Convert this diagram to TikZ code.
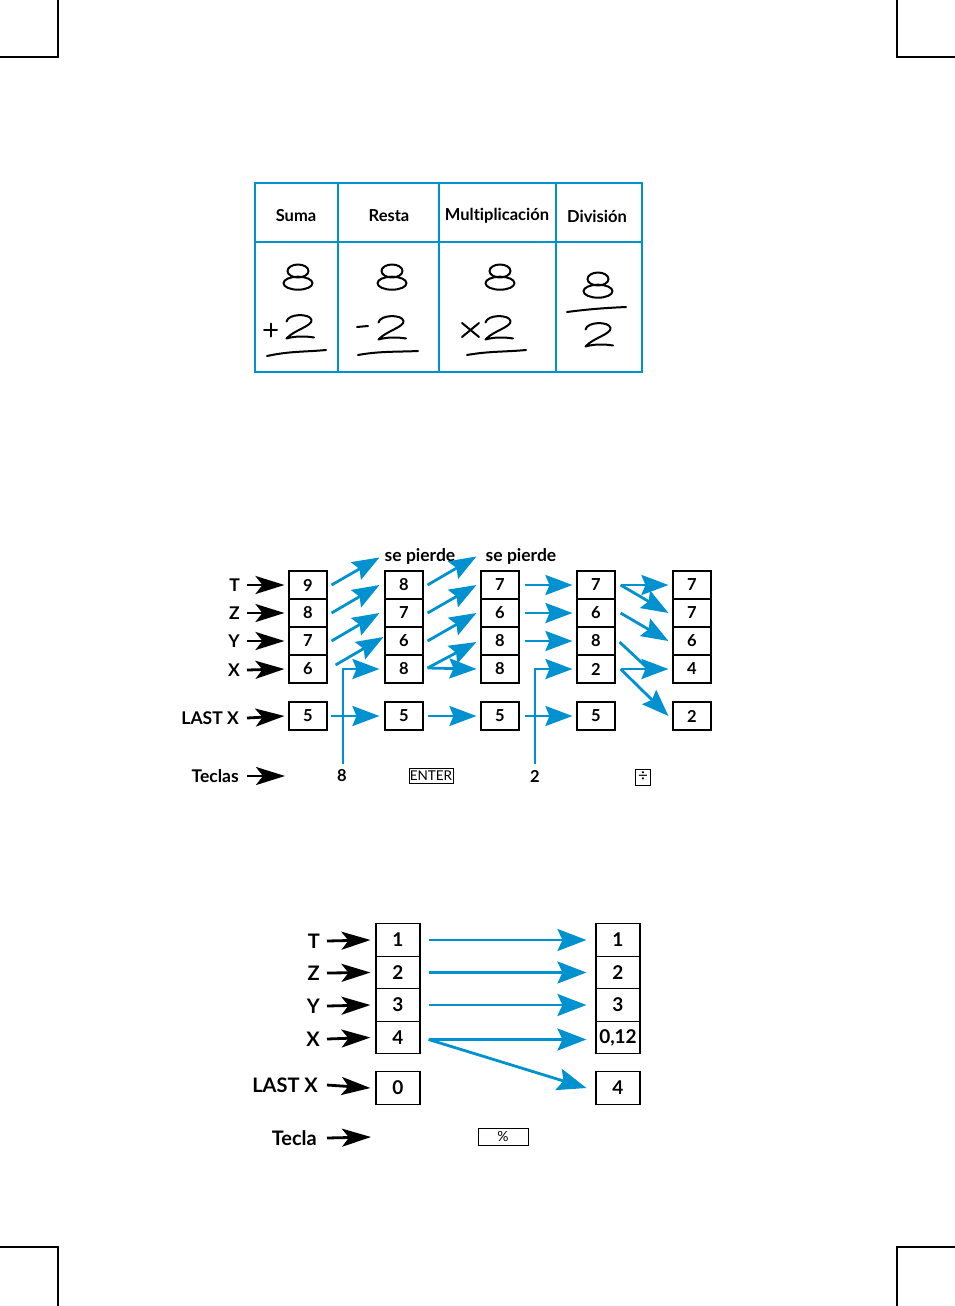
\documentclass[tikz,border=0pt]{standalone}
\usepackage{fontspec}
\setmainfont{Lato}[Ligatures=NoCommon]
\usetikzlibrary{arrows.meta}
\definecolor{hpblue}{RGB}{0,146,208}
\tikzset{
  bl/.style={draw=hpblue, line width=2.8pt, -{Stealth[length=27pt,width=20pt,inset=4pt]}},
  blb/.style={draw=hpblue, line width=2.8pt, -{Stealth[length=29pt,width=22pt,inset=5pt]}},
  blline/.style={draw=hpblue, line width=2.8pt},
  bk/.style={draw=black, line width=2.8pt, -{Stealth[length=29pt,width=18pt,inset=7pt]}},
  reg/.style={draw, line width=1.1pt, minimum width=38pt, minimum height=28pt, inner sep=0pt,
    font=\fontsize{16.5}{16.5}\selectfont\bfseries},
  regb/.style={draw, line width=1.1pt, minimum width=44pt, minimum height=32.8pt, inner sep=0pt,
    font=\fontsize{19}{19}\selectfont\bfseries},
  lab/.style={anchor=east, inner sep=0pt, font=\fontsize{17.5}{17.5}\selectfont\bfseries},
  labb/.style={anchor=east, inner sep=0pt, font=\fontsize{20}{20}\selectfont\bfseries},
  keyt/.style={inner sep=0pt, font=\fontsize{16.5}{16.5}\selectfont\bfseries},
  seplab/.style={inner sep=0pt, font=\fontsize{17.5}{17.5}\selectfont\bfseries},
  keybox/.style={draw, line width=0.8pt, inner sep=0pt, font=\fontsize{13.5}{13.5}\selectfont},
  hdr/.style={inner sep=0pt, font=\fontsize{16.5}{16.5}\selectfont\bfseries},
  hw/.style={line width=2pt, line cap=round, line join=round},
  crop/.style={line width=1.3pt},
  heightpic/.pic={
    \draw[hw] (0,-6) ellipse [x radius=10.5pt, y radius=6.5pt];
    \draw[hw] (0,6.2) ellipse [x radius=14.5pt, y radius=6.5pt];
  },
  htwopic/.pic={
    \draw[hw] (0.5,6.5) .. controls (2,-1.5) and (24,-2) .. (25.5,5)
      .. controls (26.5,11) and (8,15) .. (0.5,23.5)
      .. controls (9,21) and (19,21) .. (28,22.5);
  },
}
\begin{document}
\begin{tikzpicture}[x=1pt,y=-1pt]
\useasboundingbox (0,0) rectangle (955,1306);
% crop marks
\draw[crop] (58,0) -- (58,57) -- (0,57);
\draw[crop] (897,0) -- (897,57) -- (955,57);
\draw[crop] (0,1247) -- (58,1247) -- (58,1306);
\draw[crop] (955,1247) -- (897,1247) -- (897,1306);

% ---------- table ----------
\draw[hpblue, line width=1.5pt] (255,183) rectangle (642,372);
\draw[hpblue, line width=1.5pt] (255,242) -- (642,242);
\draw[hpblue, line width=1.5pt] (338,183) -- (338,372);
\draw[hpblue, line width=1.5pt] (439,183) -- (439,372);
\draw[hpblue, line width=1.5pt] (556,183) -- (556,372);
\node[hdr] (hsuma) at (296,216) {Suma};
\node[hdr] (hresta) at (389,216) {Resta};
\node[hdr] (hmult) at (497,216) {Multiplicación};
\node[hdr] (hdiv) at (597,216) {División};
% Suma
\pic at (298,277) {heightpic};
\draw[hw] (264,330) -- (277,330) (270.5,323.5) -- (270.5,336.5);
\pic at (286,315) {htwopic};
\draw[hw] (267,356) .. controls (290,351) and (305,352) .. (326,350);
% Resta
\pic at (392,277) {heightpic};
\draw[hw] (357,327) -- (368,326);
\pic at (378,316) {htwopic};
\draw[hw] (358,355) .. controls (380,351) and (398,352) .. (418,351);
% Multiplicacion
\pic at (500,277) {heightpic};
\draw[hw] (462,323) -- (479,337) (462,337) -- (479,323);
\pic at (485,316) {htwopic};
\draw[hw] (467,355) .. controls (490,351) and (505,352) .. (526,350);
% Division
\pic at (598,285) {heightpic};
\draw[hw] (567,312) .. controls (590,309) and (605,308) .. (626,307);
\pic at (585,323) {htwopic};

% ---------- middle diagram ----------
\node[lab] (lT) at (240,585) {T};
\node[lab] (lZ) at (240,613) {Z};
\node[lab] (lY) at (240,641) {Y};
\node[lab] (lX) at (240,670) {X};
\node[lab] (lL) at (239,718) {LAST X};
\node[lab] (lK) at (239,776) {Teclas};
\coordinate (kT) at (285,776);

\foreach \c/\x/\v/\w/\y/\z/\l in {a/308/9/8/7/6/5, b/404/8/7/6/8/5, c/500/7/6/8/8/5, d/596/7/6/8/2/5, e/692/7/7/6/4/2}{
  \node[reg] (\c1) at (\x,585) {\v};
  \node[reg] (\c2) at (\x,613) {\w};
  \node[reg] (\c3) at (\x,641) {\y};
  \node[reg] (\c4) at (\x,669) {\z};
  \node[reg] (\c L) at (\x,716) {\l};
}

\draw[bk] ([shift={(7,0)}]lT.east) -- ([shift={(-4,0)}]a1.west);
\draw[bk] ([shift={(7,0)}]lZ.east) -- ([shift={(-4,0)}]a2.west);
\draw[bk] ([shift={(7,0)}]lY.east) -- ([shift={(-4,0)}]a3.west);
\draw[bk] ([shift={(7,0)}]lX.east) -- ([shift={(-4,0)}]a4.west);
\draw[bk] ([shift={(8,0)}]lL.east) -- ([shift={(-4,0)}]aL.west);
\draw[bk] ([shift={(8,0)}]lK.east) -- (kT);

\node[seplab] (se1) at (420,556) {se pierde};
\node[seplab] (se2) at (521,556) {se pierde};

% a -> b
\draw[bl] ([shift={(4,0)}]a1.east) -- ([shift={(-5,-13)}]b1.north west);
\draw[bl] ([shift={(4,0)}]a2.east) -- ([shift={(-5,0)}]b1.west);
\draw[bl] ([shift={(4,0)}]a3.east) -- ([shift={(-5,0)}]b2.west);
\draw[bl] ([shift={(8,-4)}]a4.east) -- ([shift={(-1,-4)}]b3.west);
\draw[bl] ([shift={(3,0)}]aL.east) -- ([shift={(-5,0)}]bL.west);
\node[keyt] (k8) at (342,776) {8};
\draw[bl] ([shift={(1,-6)}]k8.north) |- ([shift={(-5,0)}]b4.west);
\node[keybox, minimum width=44pt, minimum height=15pt] (kE) at (431,776) {ENTER};

% b -> c
\draw[bl] ([shift={(4,0)}]b1.east) -- ([shift={(-4,-14)}]c1.north west);
\draw[bl] ([shift={(4,0)}]b2.east) -- ([shift={(-4,0)}]c1.west);
\draw[bl] ([shift={(4,0)}]b3.east) -- ([shift={(-4,0)}]c2.west);
\draw[bl] ([shift={(4,-1)}]b4.east) -- ([shift={(-4,1)}]c3.west);
\draw[bl] ([shift={(4,-1)}]b4.east) -- ([shift={(-4,0)}]c4.west);
\draw[bl] ([shift={(4,0)}]bL.east) -- ([shift={(-4,0)}]cL.west);

% c -> d
\draw[bl] ([shift={(5,0)}]c1.east) -- ([shift={(-4,0)}]d1.west);
\draw[bl] ([shift={(5,0)}]c2.east) -- ([shift={(-4,0)}]d2.west);
\draw[bl] ([shift={(5,0)}]c3.east) -- ([shift={(-4,0)}]d3.west);
\draw[bl] ([shift={(5,0)}]cL.east) -- ([shift={(-4,0)}]dL.west);
\node[keyt] (k2) at (535,776) {2};
\draw[bl] ([shift={(0,-6)}]k2.north) |- ([shift={(-4,0)}]d4.west);
\node[keybox, minimum width=15pt, minimum height=16pt, font=\fontsize{17}{17}\selectfont] (kD) at (643,777) {÷};

% d -> e
\coordinate (m) at ([shift={(-24,0)}]e4.west);
\draw[bl] ([shift={(5,0)}]d1.east) -- ([shift={(-4,0)}]e1.west);
\draw[bl] ([shift={(5,0)}]d1.east) -- ([shift={(-4,0)}]e2.west);
\draw[bl] ([shift={(5,0)}]d2.east) -- ([shift={(-4,0)}]e3.west);
\draw[blline] ([shift={(4,1)}]d3.east) -- (m);
\draw[bl] ([shift={(5,0)}]d4.east) -- ([shift={(-4,0)}]e4.west);
\draw[bl] ([shift={(5,0)}]d4.east) -- ([shift={(-4,0)}]eL.west);

% ---------- bottom diagram ----------
\node[labb] (mT) at (320,941) {T};
\node[labb] (mZ) at (320,973) {Z};
\node[labb] (mY) at (320,1006) {Y};
\node[labb] (mX) at (320,1039) {X};
\node[labb] (mL) at (318,1085) {LAST X};
\node[labb] (mK) at (317,1138) {Tecla};
\coordinate (kb) at (371,1137);

\foreach \c/\x/\v/\w/\y/\z/\l in {p/398/1/2/3/4/0, q/618/1/2/3/{0,12}/4}{
  \node[regb] (\c1) at (\x,940) {\v};
  \node[regb] (\c2) at (\x,972.5) {\w};
  \node[regb] (\c3) at (\x,1005) {\y};
  \node[regb] (\c4) at (\x,1037.5) {\z};
  \node[regb] (\c L) at (\x,1088) {\l};
}
\draw[bk] ([shift={(7,0)}]mT.east) -- ([shift={(-5,0)}]p1.west);
\draw[bk] ([shift={(7,0)}]mZ.east) -- ([shift={(-5,0)}]p2.west);
\draw[bk] ([shift={(7,0)}]mY.east) -- ([shift={(-5,0)}]p3.west);
\draw[bk] ([shift={(7,0)}]mX.east) -- ([shift={(-5,0)}]p4.west);
\draw[bk] ([shift={(9,0)}]mL.east) -- ([shift={(-5,0)}]pL.west);
\draw[bk] ([shift={(10,0)}]mK.east) -- (kb);

\draw[blb] ([shift={(8,0)}]p1.east) -- ([shift={(-9,0)}]q1.west);
\draw[blb] ([shift={(8,0)}]p2.east) -- ([shift={(-9,0)}]q2.west);
\draw[blb] ([shift={(8,0)}]p3.east) -- ([shift={(-9,0)}]q3.west);
\draw[blb] ([shift={(8,2)}]p4.east) -- ([shift={(-9,2)}]q4.west);
\draw[blb] ([shift={(8,2)}]p4.east) -- ([shift={(-9,0)}]qL.west);
\node[keybox, minimum width=50pt, minimum height=17pt, font=\fontsize{14}{14}\selectfont] (kP) at (503,1136.5) {\%};
\end{tikzpicture}
\end{document}
